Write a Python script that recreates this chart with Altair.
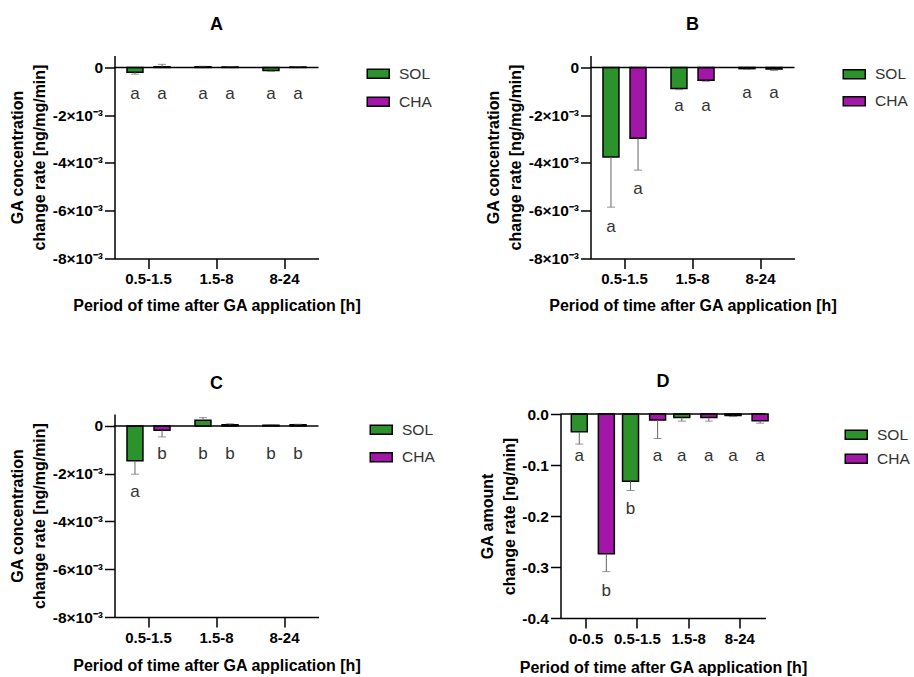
import altair as alt
import pandas as pd

FONT = "Liberation Sans"
GREEN = "#2c932c"
MAGENTA = "#a416a8"

# ---------------- data ----------------
groups = ["SOL", "CHA"]

a_periods = ["0.5-1.5", "1.5-8", "8-24"]
a_sol = [-0.20e-3, 0.03e-3, -0.13e-3]
a_sol_sd = [0.08e-3, 0.02e-3, 0.03e-3]
a_cha = [0.03e-3, 0.02e-3, 0.02e-3]
a_cha_sd = [0.10e-3, 0.02e-3, 0.02e-3]
a_let_sol = ["a", "a", "a"]
a_let_cha = ["a", "a", "a"]
a_ly_sol = [-1.1e-3, -1.1e-3, -1.1e-3]
a_ly_cha = [-1.1e-3, -1.1e-3, -1.1e-3]

b_periods = ["0.5-1.5", "1.5-8", "8-24"]
b_sol = [-3.75e-3, -0.88e-3, -0.05e-3]
b_sol_sd = [2.10e-3, 0.05e-3, 0.03e-3]
b_cha = [-2.97e-3, -0.54e-3, -0.07e-3]
b_cha_sd = [1.33e-3, 0.04e-3, 0.06e-3]
b_let_sol = ["a", "a", "a"]
b_let_cha = ["a", "a", "a"]
b_ly_sol = [-6.7e-3, -1.62e-3, -1.06e-3]
b_ly_cha = [-5.1e-3, -1.62e-3, -1.06e-3]

c_periods = ["0.5-1.5", "1.5-8", "8-24"]
c_sol = [-1.46e-3, 0.24e-3, 0.03e-3]
c_sol_sd = [0.56e-3, 0.11e-3, 0.02e-3]
c_cha = [-0.18e-3, 0.05e-3, 0.05e-3]
c_cha_sd = [0.28e-3, 0.04e-3, 0.02e-3]
c_let_sol = ["a", "b", "b"]
c_let_cha = ["b", "b", "b"]
c_ly_sol = [-2.76e-3, -1.17e-3, -1.17e-3]
c_ly_cha = [-1.17e-3, -1.17e-3, -1.17e-3]

d_periods = ["0-0.5", "0.5-1.5", "1.5-8", "8-24"]
d_sol = [-0.035, -0.132, -0.007, -0.003]
d_sol_sd = [0.024, 0.018, 0.007, 0.002]
d_cha = [-0.274, -0.012, -0.007, -0.013]
d_cha_sd = [0.035, 0.036, 0.007, 0.005]
d_let_sol = ["a", "b", "a", "a"]
d_let_cha = ["b", "a", "a", "a"]
d_ly_sol = [-0.083, -0.187, -0.083, -0.083]
d_ly_cha = [-0.347, -0.083, -0.083, -0.083]

conc_ticks = [-0.008, -0.006, -0.004, -0.002, 0]
amount_ticks = [-0.4, -0.3, -0.2, -0.1, 0]


def build_df(periods, sol, sol_sd, cha, cha_sd, ls, lc, ys, yc):
    rows = []
    for i, p in enumerate(periods):
        for g, v, sd, lt, ly in (("SOL", sol[i], sol_sd[i], ls[i], ys[i]),
                                 ("CHA", cha[i], cha_sd[i], lc[i], yc[i])):
            sign = -1 if v < 0 else 1
            rows.append({"period": p, "group": g, "value": v,
                         "err": v + sign * sd, "letter": lt, "ly": ly})
    return pd.DataFrame(rows)


def panel(title, periods, df, ydom, yticks, ytitle, label_expr, width, height,
          xpi, xpo, opi, opo, legx, legy, rowpad, xtitlepad, toff):
    base = alt.Chart(df)
    x = alt.X("period:N", sort=periods,
              scale=alt.Scale(paddingInner=xpi, paddingOuter=xpo),
              axis=alt.Axis(title="Period of time after GA application [h]",
                            labelAngle=0, labelFontSize=15, labelFontWeight="bold",
                            titleFontSize=16, titleFontWeight="bold",
                            tickSize=10, labelPadding=3, titlePadding=xtitlepad))
    xo = alt.XOffset("group:N", sort=groups,
                     scale=alt.Scale(paddingInner=opi, paddingOuter=opo))
    y = alt.Y("value:Q",
              scale=alt.Scale(domain=ydom, nice=False, zero=False),
              axis=alt.Axis(title=ytitle, values=yticks, labelExpr=label_expr,
                            labelFontSize=15.5, labelFontWeight="bold",
                            titleFontSize=16, titleFontWeight="bold",
                            titleLineHeight=22, tickSize=10, labelPadding=2,
                            titlePadding=4.5))
    color = alt.Color("group:N", sort=groups,
                      scale=alt.Scale(domain=groups, range=[GREEN, MAGENTA]),
                      legend=alt.Legend(title=None, orient="none",
                                        legendX=legx, legendY=legy,
                                        symbolType="M-2,-0.8H2V0.8H-2Z",
                                        symbolSize=121,
                                        symbolStrokeColor="black",
                                        symbolStrokeWidth=1.5,
                                        labelFont=FONT, labelFontSize=15.5,
                                        labelColor="#333", labelOffset=13,
                                        rowPadding=rowpad))
    bars = base.mark_bar(stroke="black", strokeWidth=1.5).encode(
        x=x, xOffset=xo, y=y, color=color)
    errs = base.mark_rule(color="#666", strokeWidth=1).encode(
        x=x, xOffset=xo, y="value:Q", y2="err:Q")
    caps = base.mark_tick(color="#666", thickness=1, size=8).encode(
        x=x, xOffset=xo, y="err:Q")
    letters = base.mark_text(font=FONT, fontSize=17, color="#333",
                             baseline="middle").encode(
        x=x, xOffset=xo, y="ly:Q", text="letter:N")
    zero = alt.Chart(alt.Data(values=[{"z": 0}])).mark_rule(
        color="black", strokeWidth=1.5).encode(y=alt.datum(0))
    return alt.layer(bars, errs, caps, letters, zero).properties(
        width=width, height=height,
        title=alt.TitleParams(title, fontSize=18, fontWeight="bold",
                              font=FONT, anchor="middle", offset=toff))


conc_expr = "datum.value == 0 ? '0' : '-' + round(abs(datum.value) * 1000) + '×10⁻³'"
amt_expr = "datum.value == 0 ? '0.0' : '-' + format(abs(datum.value), '.1f')"
conc_title = ["GA concentration", "change rate [ng/mg/min]"]
amt_title = ["GA amount", "change rate [ng/min]"]

dfA = build_df(a_periods, a_sol, a_sol_sd, a_cha, a_cha_sd, a_let_sol, a_let_cha, a_ly_sol, a_ly_cha)
dfB = build_df(b_periods, b_sol, b_sol_sd, b_cha, b_cha_sd, b_let_sol, b_let_cha, b_ly_sol, b_ly_cha)
dfC = build_df(c_periods, c_sol, c_sol_sd, c_cha, c_cha_sd, c_let_sol, c_let_cha, c_ly_sol, c_ly_cha)
dfD = build_df(d_periods, d_sol, d_sol_sd, d_cha, d_cha_sd, d_let_sol, d_let_cha, d_ly_sol, d_ly_cha)

pA = panel("A", a_periods, dfA, [-0.008, 0.0005], conc_ticks, conc_title, conc_expr,
           204, 203, 0.2, 0.1, 0.41, 0.21, 256, 10.5, 11, 11, 22)
pB = panel("B", b_periods, dfB, [-0.008, 0.0005], conc_ticks, conc_title, conc_expr,
           204, 203, 0.2, 0.1, 0.41, 0.21, 256, 11, 10, 11, 22)
pC = panel("C", c_periods, dfC, [-0.008, 0.0005], conc_ticks, conc_title, conc_expr,
           204, 203, 0.2, 0.1, 0.41, 0.21, 259, 8, 10.5, 12, 21)
pD = panel("D", d_periods, dfD, [-0.4, 0], amount_ticks, amt_title, amt_expr,
           205, 204, 0.2, 0.1, 0.38, 0.166, 288, 13, 7, 13, 16)

row1 = alt.hconcat(pA, pB, spacing=272, bounds="flush").resolve_legend(color="independent")
row2 = alt.hconcat(pC, pD, spacing=242, bounds="flush").resolve_legend(color="independent")

chart = alt.vconcat(row1, row2, spacing=59.5).resolve_legend(color="independent").properties(
    padding={"left": 9.5, "top": 15.5, "right": 0, "bottom": 0}
).configure(font=FONT).configure_axis(
    labelFont=FONT, titleFont=FONT, labelColor="black", titleColor="black",
    domainColor="black", tickColor="black", domainWidth=1.5, tickWidth=1.5,
    grid=False
).configure_view(stroke=None).configure_title(color="black")

chart.save("out.html", embed_options={"renderer": "svg", "actions": False})
